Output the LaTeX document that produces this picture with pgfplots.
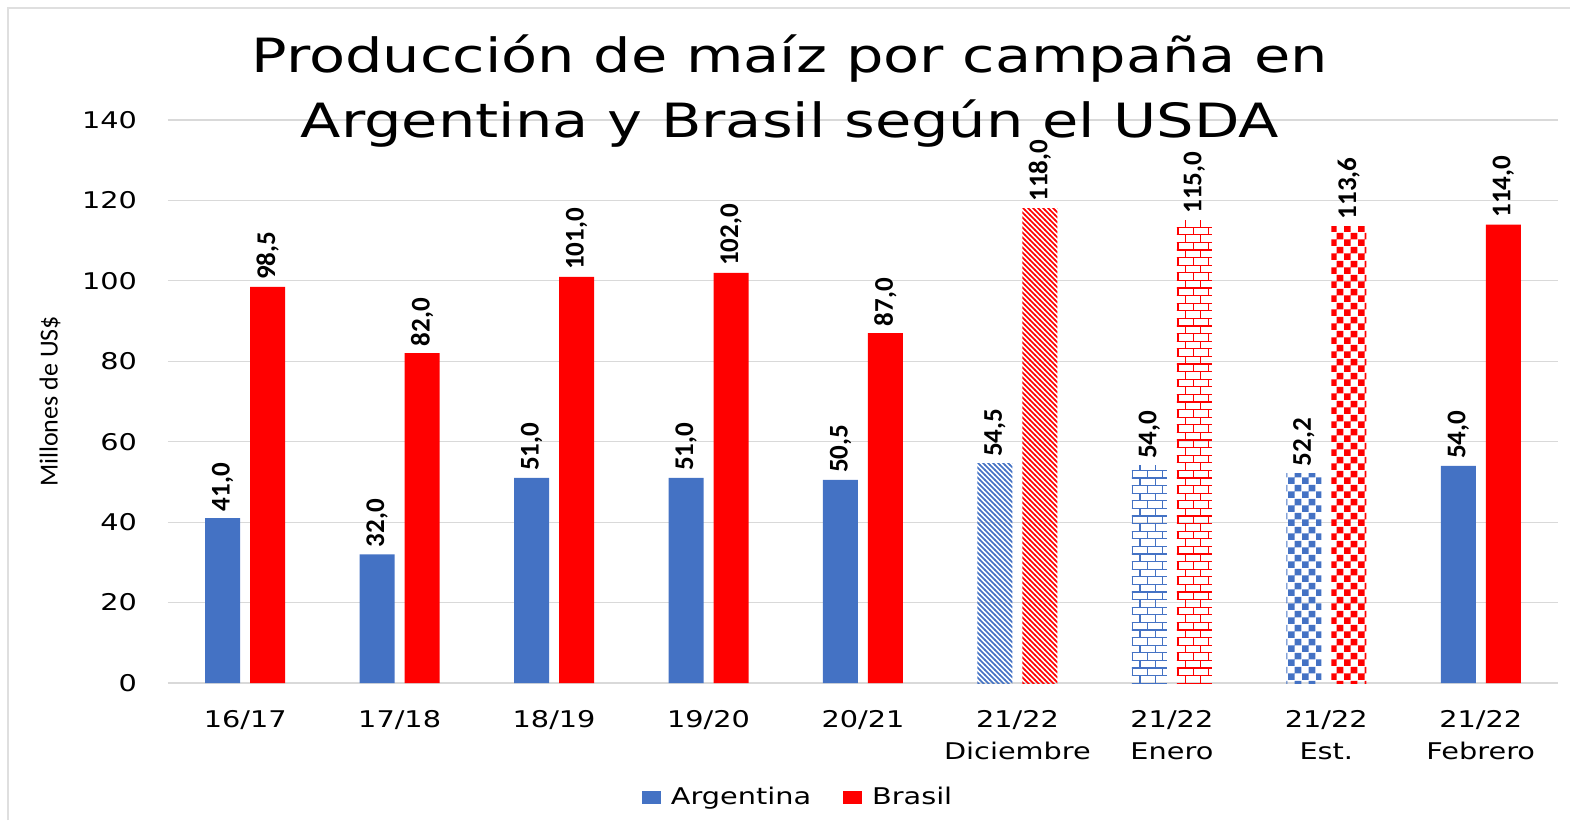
\documentclass[border=0pt]{standalone}
\usepackage{pgfplots}
\pgfplotsset{compat=1.18}
\usepackage{fontspec}
\setmainfont[FakeStretch=1.25]{DejaVu Sans}
\newfontfamily\lblfont{Carlito}
\usetikzlibrary{patterns}
\definecolor{arg}{HTML}{4472C4}
\definecolor{bra}{HTML}{FF0000}
\definecolor{gridc}{HTML}{D9D9D9}

\pgfdeclarepatternformonly{pdiag}{\pgfqpoint{-1pt}{-1pt}}{\pgfqpoint{3.6pt}{3.6pt}}{\pgfqpoint{2.5pt}{2.5pt}}{%
  \pgfsetlinewidth{0.8pt}%
  \pgfpathmoveto{\pgfqpoint{-0.1pt}{2.6pt}}%
  \pgfpathlineto{\pgfqpoint{2.6pt}{-0.1pt}}%
  \pgfusepath{stroke}}

\pgfdeclarepatternformonly{pbricks}{\pgfqpoint{-0.5pt}{-0.5pt}}{\pgfqpoint{8.5pt}{8.5pt}}{\pgfqpoint{7.6pt}{7.6pt}}{%
  \pgfsetlinewidth{0.55pt}%
  \pgfpathmoveto{\pgfqpoint{0pt}{0pt}}\pgfpathlineto{\pgfqpoint{7.6pt}{0pt}}%
  \pgfpathmoveto{\pgfqpoint{0pt}{3.8pt}}\pgfpathlineto{\pgfqpoint{7.6pt}{3.8pt}}%
  \pgfpathmoveto{\pgfqpoint{0pt}{0pt}}\pgfpathlineto{\pgfqpoint{0pt}{3.8pt}}%
  \pgfpathmoveto{\pgfqpoint{3.8pt}{3.8pt}}\pgfpathlineto{\pgfqpoint{3.8pt}{7.6pt}}%
  \pgfusepath{stroke}}

\pgfdeclarepatternformonly{pcheck}{\pgfqpoint{0pt}{0pt}}{\pgfqpoint{7pt}{7pt}}{\pgfqpoint{7pt}{7pt}}{%
  \pgfpathrectangle{\pgfqpoint{0pt}{0pt}}{\pgfqpoint{3.5pt}{3.5pt}}%
  \pgfpathrectangle{\pgfqpoint{3.5pt}{3.5pt}}{\pgfqpoint{3.5pt}{3.5pt}}%
  \pgfusepath{fill}}

\begin{document}
\begin{tikzpicture}
\useasboundingbox (-84pt,-68.5pt) rectangle (701pt,341.5pt);
\draw[gray!25, line width=0.8pt] (-80pt,-68.5pt) -- (-80pt,337.5pt) -- (701pt,337.5pt);
\begin{axis}[
  at={(0,0)}, anchor=south west,
  scale only axis, width=695pt, height=281.5pt,
  ymin=0, ymax=140, xmin=-0.5, xmax=8.5,
  ytick={0,20,...,140}, xtick={0,...,8},
  xticklabels={16/17,17/18,18/19,19/20,20/21,{21/22\\Diciembre},{21/22\\Enero},{21/22\\Est.},{21/22\\Febrero}},
  /pgf/number format/assume math mode=true,
  ybar, bar width=17.5pt,
  ymajorgrids, grid style={gridc, line width=0.6pt},
  axis x line*=bottom, axis y line*=left,
  x axis line style={draw=gridc, line width=0.8pt, -},
  y axis line style={draw=none},
  major tick length=0pt,
  tick label style={font=\fontsize{11.5}{16}\selectfont, text=black},
  yticklabel style={xshift=-12pt},
  xticklabel style={align=center, yshift=-10pt},
  ylabel={Millones de US\$},
  ylabel style={at={(axis description cs:-0.0849,0.5)}, anchor=center, font=\lblfont\fontsize{13}{15}\selectfont},
  nodes near coords={\pgfmathprintnumber[fixed,fixed zerofill,precision=1,use comma]{\pgfplotspointmeta}},
  every node near coord/.append style={rotate=90, anchor=west, font=\lblfont\bfseries\fontsize{13.5}{16}\selectfont, text=black},
  legend columns=2,
  legend style={draw=none, at={(axis description cs:0.454,-0.2025)}, anchor=center,
    font=\fontsize{11.5}{14}\selectfont,
    /tikz/every odd column/.append style={column sep=3pt},
    /tikz/every even column/.append style={column sep=14pt}},
]
\addplot[fill=arg, draw=none, bar shift=-11.25pt,
  legend image code/.code={\fill[arg] (0pt,-3.25pt) rectangle (9.5pt,3.25pt);}]
  coordinates {(0,41.0) (1,32.0) (2,51.0) (3,51.0) (4,50.5) (8,54.0)};
\addlegendentry{Argentina}
\addplot[fill=bra, draw=none, bar shift=11.25pt,
  legend image code/.code={\fill[bra] (0pt,-3.25pt) rectangle (9.5pt,3.25pt);}]
  coordinates {(0,98.5) (1,82.0) (2,101.0) (3,102.0) (4,87.0) (8,114.0)};
\addlegendentry{Brasil}
\addplot[pattern=pdiag, pattern color=arg, draw=none, bar shift=-11.25pt, forget plot] coordinates {(5,54.5)};
\addplot[pattern=pdiag, pattern color=bra, draw=none, bar shift=11.25pt, forget plot] coordinates {(5,118.0)};
\addplot[pattern=pbricks, pattern color=arg, draw=none, bar shift=-11.25pt, forget plot] coordinates {(6,54.0)};
\addplot[pattern=pbricks, pattern color=bra, draw=none, bar shift=11.25pt, forget plot] coordinates {(6,115.0)};
\addplot[pattern=pcheck, pattern color=arg, draw=none, bar shift=-11.25pt, forget plot] coordinates {(7,52.2)};
\addplot[pattern=pcheck, pattern color=bra, draw=none, bar shift=11.25pt, forget plot] coordinates {(7,113.6)};
\end{axis}
\node[align=center, font=\fontsize{23.6}{32.5}\selectfont] at (311pt,296pt)
  {Producción de maíz por campaña en\\Argentina y Brasil según el USDA};
\end{tikzpicture}
\end{document}
